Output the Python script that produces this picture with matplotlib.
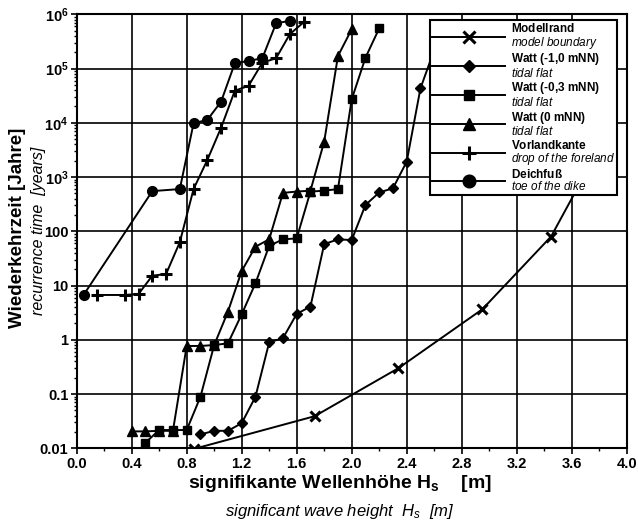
import numpy as np
import matplotlib
matplotlib.use("Agg")
from matplotlib import pyplot as plt
from matplotlib.ticker import FixedLocator, FixedFormatter, LogLocator, NullFormatter

plt.rcParams['font.family'] = ['Liberation Sans', 'DejaVu Sans']
plt.rcParams['mathtext.fontset'] = 'custom'
plt.rcParams['mathtext.rm'] = 'Liberation Sans'
plt.rcParams['mathtext.bf'] = 'Liberation Sans:bold'
plt.rcParams['mathtext.it'] = 'Liberation Sans:italic'

# Modellrand / model boundary
hs_rand = [0.85, 1.73, 2.34, 2.95, 3.45, 3.75]
t_rand = [0.0097, 0.039, 0.30, 3.65, 80, 2000]

# Watt (-1,0 mNN)
hs_w10 = [0.9, 1.0, 1.1, 1.2, 1.3, 1.4, 1.5, 1.6, 1.7, 1.8, 1.9, 2.0, 2.1, 2.2, 2.3, 2.4, 2.5, 2.6]
t_w10 = [0.018, 0.021, 0.021, 0.029, 0.089, 0.9, 1.07, 3.0, 4.1, 58, 71, 69, 305, 520, 620, 1920,
         43000, 220000]

# Watt (-0,3 mNN)
hs_w03 = [0.5, 0.6, 0.7, 0.8, 0.9, 1.0, 1.1, 1.2, 1.3, 1.4, 1.5, 1.6, 1.7, 1.8, 1.9, 2.0, 2.1, 2.2]
t_w03 = [0.0127, 0.0217, 0.0217, 0.0217, 0.089, 0.80, 0.86, 2.95, 11, 54, 71, 74, 540, 560, 600,
         27000, 158000, 550000]

# Watt (0 mNN)
hs_w00 = [0.4, 0.5, 0.6, 0.7, 0.8, 0.9, 1.0, 1.1, 1.2, 1.3, 1.4, 1.5, 1.6, 1.7, 1.8, 1.9, 2.0]
t_w00 = [0.0205, 0.0205, 0.021, 0.021, 0.77, 0.77, 0.8, 3.3, 18.5, 52, 71, 510, 540, 560, 4500,
         170000, 530000]

# Vorlandkante / drop of the foreland
hs_vor = [0.15, 0.35, 0.45, 0.55, 0.65, 0.75, 0.85, 0.95, 1.05, 1.15, 1.25, 1.35, 1.45, 1.55, 1.65]
t_vor = [6.7, 6.7, 7.0, 15.2, 16.3, 63, 600, 2060, 8100, 39000, 48000, 128000, 155000, 430000, 710000]

# Deichfuss / toe of the dike
hs_dei = [0.05, 0.55, 0.75, 0.85, 0.95, 1.05, 1.15, 1.25, 1.35, 1.45, 1.55]
t_dei = [6.7, 550, 600, 9800, 11300, 24500, 125000, 138000, 155000, 680000, 760000]

series = [
    (hs_rand, t_rand, 'x', 7, r'$\mathbf{Modellrand}$' + '\n' + r'$\mathit{model\ boundary}$'),
    (hs_w10, t_w10, 'D', 5, r'$\mathbf{Watt\ (‐1{,}0\ mNN)}$' + '\n' + r'$\mathit{tidal\ flat}$'),
    (hs_w03, t_w03, 's', 6, r'$\mathbf{Watt\ (‐0{,}3\ mNN)}$' + '\n' + r'$\mathit{tidal\ flat}$'),
    (hs_w00, t_w00, '^', 6.5, r'$\mathbf{Watt\ (0\ mNN)}$' + '\n' + r'$\mathit{tidal\ flat}$'),
    (hs_vor, t_vor, '+', 8, r'$\mathbf{Vorlandkante}$' + '\n' + r'$\mathit{drop\ of\ the\ foreland}$'),
    (hs_dei, t_dei, 'o', 7, r'$\mathbf{Deichfuß}$' + '\n' + r'$\mathit{toe\ of\ the\ dike}$'),
]

fig = plt.figure(figsize=(6.38, 5.25), dpi=100)
ax = fig.add_axes([0.1202, 0.1461, 0.8621, 0.8267])

for hs, t, mk, ms, lab in series:
    if mk in ('x', '+'):
        ax.plot(hs, t, color='black', lw=1.4, marker=mk, ms=ms, mew=2.2, label=lab)
    else:
        ax.plot(hs, t, color='black', lw=1.4, marker=mk, ms=ms, mec='black', mfc='black', label=lab)

ax.set_yscale('log')
ax.set_xlim(0, 4.0)
ax.set_ylim(0.01, 1e6)

xt = np.arange(0, 4.01, 0.4)
ax.xaxis.set_major_locator(FixedLocator(xt))
ax.xaxis.set_minor_locator(FixedLocator(np.arange(0.2, 4.0, 0.4)))
ax.set_xticklabels(['%.1f' % v for v in xt], fontweight='bold', fontsize=10.5)

yticks = [0.01, 0.1, 1, 10, 100, 1e3, 1e4, 1e5, 1e6]
ylabels = ['0.01', '0.1', '1', '10', '100',
           r'$\mathbf{10}^{\mathbf{3}}$', r'$\mathbf{10}^{\mathbf{4}}$',
           r'$\mathbf{10}^{\mathbf{5}}$', r'$\mathbf{10}^{\mathbf{6}}$']
ax.yaxis.set_major_locator(FixedLocator(yticks))
ax.yaxis.set_major_formatter(FixedFormatter(ylabels))
ax.yaxis.set_minor_locator(LogLocator(base=10, subs=np.arange(2, 10), numticks=20))
ax.yaxis.set_minor_formatter(NullFormatter())
for lbl in ax.get_yticklabels():
    lbl.set_fontweight('bold')
    lbl.set_fontsize(10.5)

ax.tick_params(which='major', direction='out', length=4, width=1.2, pad=2)
ax.tick_params(which='minor', direction='out', length=2.5, width=1.0)
ax.grid(True, which='major', color='black', lw=1.2)
for sp in ax.spines.values():
    sp.set_linewidth(1.5)

fig.text(0.533, 0.08, r'signifikante Wellenhöhe H$_{\mathbf{s}}$    [m]', fontweight='bold',
         fontsize=14, ha='center', va='center')
fig.text(0.533, 0.025, r'significant wave height  $H_s$  [$m$]', style='italic', fontsize=12,
         ha='center', va='center')
fig.text(0.028, 0.565, 'Wiederkehrzeit [Jahre]', fontweight='bold', fontsize=13.5, rotation=90,
         ha='center', va='center')
fig.text(0.06, 0.56, 'recurrence time  [years]', style='italic', fontsize=11.5, rotation=90,
         ha='center', va='center')

leg = ax.legend(loc='upper right', bbox_to_anchor=(0.983, 0.987), fontsize=8.5, handlelength=6.2,
                handletextpad=0.45, labelspacing=0.05, borderpad=0.2, borderaxespad=0,
                fancybox=False, framealpha=1, edgecolor='black', markerscale=1.3)
leg.get_frame().set_linewidth(1.5)
for t in leg.get_texts():
    t.set_linespacing(0.95)

fig.savefig('out.png', dpi=100)
